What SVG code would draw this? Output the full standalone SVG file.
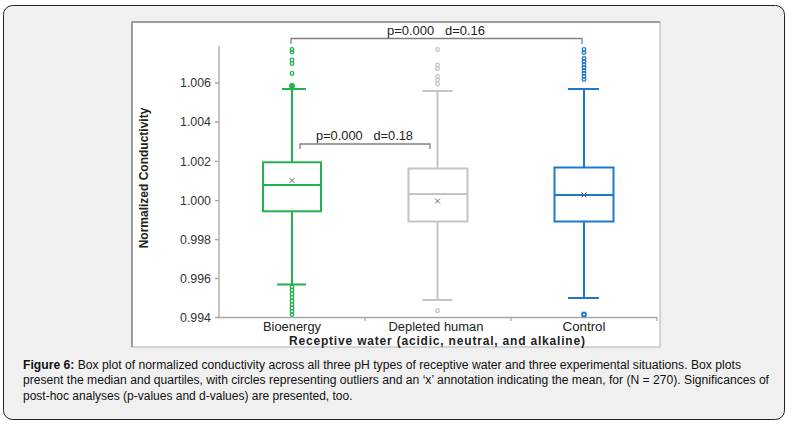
<svg xmlns="http://www.w3.org/2000/svg" width="801" height="426" viewBox="0 0 801 426">
<style>
.ax{stroke:#a6a6a6;stroke-width:1.3;fill:none}
.tk{font-family:"Liberation Sans",Arial,sans-serif;font-size:12px;fill:#333}
.br{stroke:#7f7f7f;stroke-width:1.3;fill:none}
.lbl{font-family:"Liberation Sans",Arial,sans-serif;font-size:12px;fill:#222}
.g{stroke:#22b34c;stroke-width:2;fill:none}
.gy{stroke:#c4c4c4;stroke-width:2;fill:none}
.b{stroke:#1f78cf;stroke-width:2;fill:none}
.mx{stroke:#555;stroke-width:0.9}
.cap{font-family:"Liberation Sans",Arial,sans-serif;font-size:12px;fill:#111}
</style>
<rect x="3.5" y="5.5" width="781" height="414" rx="9" fill="#f0f0f0" stroke="#222" stroke-width="1"/>
<g id="chart-frame">
<rect x="132" y="22" width="528" height="325" fill="#fff" stroke="#b0b0b0" stroke-width="1"/>
<path d="M132 347V22H660" stroke="#8a8a8a" stroke-width="1.5" fill="none"/>
</g>
<g id="axes">
<path class="ax" d="M219 46V317.5H657"/>
<path class="ax" d="M215 83H219M215 122H219M215 161.3H219M215 200.6H219M215 239.6H219M215 278.5H219M215 317.5H219"/>
<path class="ax" d="M365 317.5V321M511 317.5V321M657 317.5V321"/>
<text class="tk" x="211" y="87.3" text-anchor="end" textLength="31" lengthAdjust="spacingAndGlyphs">1.006</text>
<text class="tk" x="211" y="126.3" text-anchor="end" textLength="31" lengthAdjust="spacingAndGlyphs">1.004</text>
<text class="tk" x="211" y="165.6" text-anchor="end" textLength="31" lengthAdjust="spacingAndGlyphs">1.002</text>
<text class="tk" x="211" y="204.9" text-anchor="end" textLength="31" lengthAdjust="spacingAndGlyphs">1.000</text>
<text class="tk" x="211" y="243.9" text-anchor="end" textLength="31" lengthAdjust="spacingAndGlyphs">0.998</text>
<text class="tk" x="211" y="282.8" text-anchor="end" textLength="31" lengthAdjust="spacingAndGlyphs">0.996</text>
<text class="tk" x="211" y="321.8" text-anchor="end" textLength="31" lengthAdjust="spacingAndGlyphs">0.994</text>
<text class="lbl" x="292" y="330.5" text-anchor="middle" textLength="58" lengthAdjust="spacingAndGlyphs">Bioenergy</text>
<text class="lbl" x="436" y="330.5" text-anchor="middle" textLength="95" lengthAdjust="spacingAndGlyphs">Depleted human</text>
<text class="lbl" x="584" y="330.5" text-anchor="middle" textLength="43" lengthAdjust="spacingAndGlyphs">Control</text>
<text class="lbl" x="437" y="345" text-anchor="middle" font-weight="bold" textLength="296" lengthAdjust="spacing">Receptive water (acidic, neutral,  and alkaline)</text>
<text class="lbl" transform="translate(148 178) rotate(-90)" text-anchor="middle" font-weight="bold" font-family="'Liberation Sans Narrow','Liberation Sans',Arial,sans-serif" font-size="12.5px">Normalized Conductivity</text>
</g>
<g id="bioenergy">
<path class="g" d="M292 89V162.3M292 211.3V284.5M282 89H306M277 284.5H306"/>
<rect class="g" x="263" y="162.3" width="58" height="49"/>
<path class="g" d="M263 185H321"/>
<path class="mx" d="M289.5 178L294.5 183M294.5 178L289.5 183"/>
<g stroke="#22b34c" stroke-width="1.3" fill="none">
<circle cx="292" cy="49.5" r="1.8"/><circle cx="292" cy="52" r="1.8"/>
<circle cx="292" cy="60" r="1.8"/><circle cx="292" cy="63.5" r="1.8"/>
<circle cx="292" cy="73.5" r="1.8"/>
<circle cx="292" cy="86" r="2.3" fill="#22b34c"/>
<circle cx="292" cy="287" r="1.8"/><circle cx="292" cy="290" r="1.8"/>
<circle cx="292" cy="294" r="1.8"/><circle cx="292" cy="297.5" r="1.8"/>
<circle cx="292" cy="301" r="1.8"/><circle cx="292" cy="304.5" r="1.8"/>
<circle cx="292" cy="308" r="1.8"/><circle cx="292" cy="311.5" r="1.8"/>
<circle cx="292" cy="314.5" r="1.8"/>
</g>
</g>
<g id="depleted-human">
<path class="gy" d="M437.5 91V168.5M437.5 221.5V300M422.5 91H452.5M422.5 300H452.5"/>
<rect class="gy" x="408.5" y="168.5" width="59" height="53"/>
<path class="gy" d="M408.5 194H467.5"/>
<path class="mx" d="M435 198.5L440 203.5M440 198.5L435 203.5"/>
<g stroke="#c4c4c4" stroke-width="1.3" fill="none">
<circle cx="437.5" cy="49.5" r="1.8"/>
<circle cx="437.5" cy="65" r="1.8"/><circle cx="437.5" cy="68.5" r="1.8"/>
<circle cx="437.5" cy="76.5" r="1.8"/><circle cx="437.5" cy="80" r="1.8"/>
<circle cx="437.5" cy="84" r="1.8"/>
<circle cx="437.5" cy="310.7" r="1.8"/>
</g>
</g>
<g id="control">
<path class="b" d="M584 89V167.5M584 221.5V298M568 89H599M568 298H599"/>
<rect class="b" x="554.5" y="167.5" width="59" height="54"/>
<path class="b" d="M554.5 195H613.5"/>
<path class="mx" d="M581.5 192.5L586.5 197.5M586.5 192.5L581.5 197.5"/>
<g stroke="#1f78cf" stroke-width="1.3" fill="none">
<circle cx="584" cy="49.5" r="1.8"/><circle cx="584" cy="52.5" r="1.8"/>
<circle cx="584" cy="58.5" r="1.8"/><circle cx="584" cy="61.5" r="1.8"/>
<circle cx="584" cy="64.5" r="1.8"/><circle cx="584" cy="67.5" r="1.8"/>
<circle cx="584" cy="70.5" r="1.8"/><circle cx="584" cy="73.5" r="1.8"/>
<circle cx="584" cy="76.5" r="1.8"/><circle cx="584" cy="79.5" r="1.8"/>
<circle cx="584" cy="314.5" r="2" stroke-width="1.8"/>
</g>
</g>
<g id="connectors">
<path class="br" d="M291 44V38.5H582V44"/>
<text class="lbl" x="436" y="35" text-anchor="middle" xml:space="preserve" textLength="98" lengthAdjust="spacingAndGlyphs">p=0.000   d=0.16</text>
<path class="br" d="M300 149V144H430V149"/>
<text class="lbl" x="364.5" y="140" text-anchor="middle" xml:space="preserve" textLength="97" lengthAdjust="spacingAndGlyphs">p=0.000   d=0.18</text>
</g>
<g id="caption">
<text class="cap" x="23" y="368.5" textLength="718" lengthAdjust="spacingAndGlyphs"><tspan font-weight="bold">Figure 6:</tspan> Box plot of normalized conductivity across all three pH types of receptive water and three experimental situations. Box plots</text>
<text class="cap" x="23" y="384" textLength="746" lengthAdjust="spacingAndGlyphs">present the median and quartiles, with circles representing outliers and an ‘x’ annotation indicating the mean, for (N = 270). Significances of</text>
<text class="cap" x="23" y="399.5">post-hoc analyses (p-values and d-values) are presented, too.</text>
</g>
</svg>
